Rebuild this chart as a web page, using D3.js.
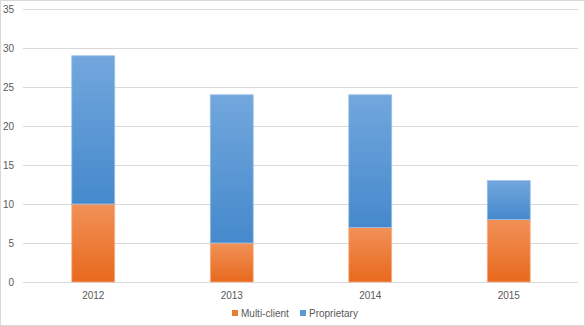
<!DOCTYPE html>
<html><head><meta charset="utf-8">
<script src="https://cdn.jsdelivr.net/npm/d3@7"></script>
<style>body{margin:0;background:#fff;}svg{display:block;font-family:"Liberation Sans",Arial,sans-serif;}</style>
</head><body><svg id="c" width="585" height="326"></svg>
<script>
const categories = ["2012","2013","2014","2015"];
const multiClient = [10,5,7,8];
const proprietary = [19,19,17,5];
const seriesNames = ["Multi-client","Proprietary"];
const yTicks = [0,5,10,15,20,25,30,35];

const svg = d3.select("#c");
const W=585,H=326;
const m={l:24,r:7,t:9,b:44};
svg.append("rect").attr("x",0.5).attr("y",0.5).attr("width",W-1).attr("height",H-1).attr("fill","#fff").attr("stroke","#d9d9d9");

const x=d3.scaleBand().domain(categories).range([m.l,W-m.r]).paddingInner(0.69).paddingOuter(0.345);
const y=d3.scaleLinear().domain([0,35]).range([H-m.b,m.t]);

const defs=svg.append("defs");
function grad(id,top,bot){const g=defs.append("linearGradient").attr("id",id).attr("x1",0).attr("y1",0).attr("x2",0).attr("y2",1);
g.append("stop").attr("offset","0%").attr("stop-color",top);g.append("stop").attr("offset","100%").attr("stop-color",bot);}
grad("gO","#f19158","#e8691d");
grad("gB","#72a7dd","#4589cc");

// gridlines
svg.append("g").selectAll("line").data(yTicks).join("line")
 .attr("x1",m.l-1).attr("x2",W-m.r).attr("y1",d=>Math.round(y(d))+0.5).attr("y2",d=>Math.round(y(d))+0.5)
 .attr("stroke","#d9d9d9").attr("stroke-width",1);

const yAxis=d3.axisLeft(y).tickValues(yTicks).tickSize(0).tickPadding(10);
const ga=svg.append("g").attr("transform",`translate(${m.l},0)`).call(yAxis);
ga.select(".domain").remove();
ga.selectAll("text").attr("fill","#595959").attr("font-size","10px");

const xAxis=d3.axisBottom(x).tickSize(0).tickPadding(10);
const gx=svg.append("g").attr("transform",`translate(0,${H-m.b})`).call(xAxis);
gx.select(".domain").remove();
gx.selectAll("text").attr("fill","#595959").attr("font-size","10px");

const data=categories.map((c,i)=>({cat:c,"Multi-client":multiClient[i],"Proprietary":proprietary[i]}));
const stack=d3.stack().keys(seriesNames)(data);
const fills={"Multi-client":"url(#gO)","Proprietary":"url(#gB)"};
const strokes={"Multi-client":"#f6b28a","Proprietary":"#9cc1e8"};
stack.forEach(s=>{
 svg.append("g").selectAll("rect").data(s).join("rect")
  .attr("x",d=>x(d.data.cat)).attr("width",x.bandwidth())
  .attr("y",d=>y(d[1])).attr("height",d=>y(d[0])-y(d[1]))
  .attr("fill",fills[s.key]).attr("stroke",strokes[s.key]).attr("stroke-width",0.8);
});

// legend
const legendColors={"Multi-client":"#ed7d31","Proprietary":"#5b9bd5"};
const lg=svg.append("g");
const lx=[232,300];
seriesNames.forEach((n,i)=>{
 lg.append("rect").attr("x",lx[i]).attr("y",310).attr("width",6).attr("height",6).attr("fill",legendColors[n]);
 lg.append("text").attr("x",lx[i]+9).attr("y",316.5).attr("font-size","10px").attr("fill","#595959").text(n);
});
</script></body></html>
